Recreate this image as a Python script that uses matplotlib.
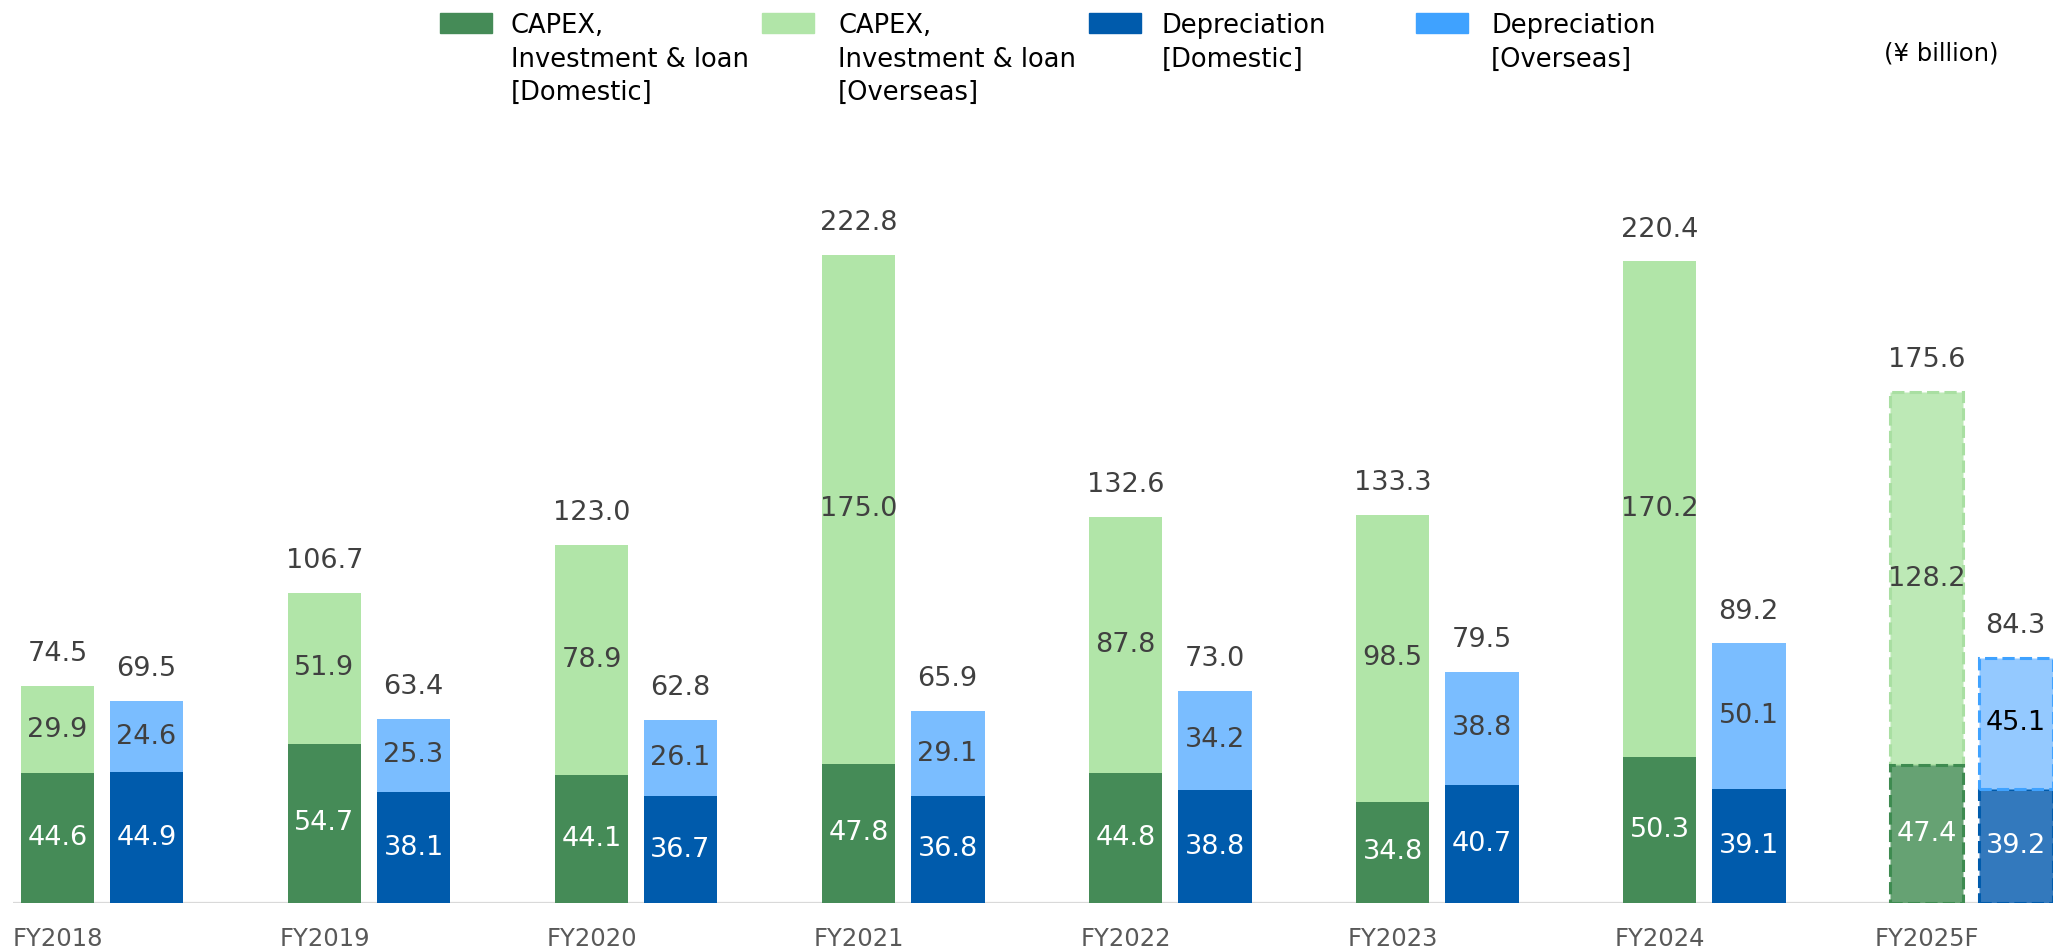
import numpy as np
import matplotlib
matplotlib.use("Agg")
import matplotlib.pyplot as plt
from matplotlib.patches import Rectangle

# data (¥ billion)
years = ["FY2018", "FY2019", "FY2020", "FY2021", "FY2022", "FY2023", "FY2024", "FY2025F"]
capex_dom = [44.6, 54.7, 44.1, 47.8, 44.8, 34.8, 50.3, 47.4]
capex_ovs = [29.9, 51.9, 78.9, 175.0, 87.8, 98.5, 170.2, 128.2]
dep_dom = [44.9, 38.1, 36.7, 36.8, 38.8, 40.7, 39.1, 39.2]
dep_ovs = [24.6, 25.3, 26.1, 29.1, 34.2, 38.8, 50.1, 45.1]
capex_total = [74.5, 106.7, 123.0, 222.8, 132.6, 133.3, 220.4, 175.6]
dep_total = [69.5, 63.4, 62.8, 65.9, 73.0, 79.5, 89.2, 84.3]

legend_labels = ["CAPEX,\nInvestment & loan\n[Domestic]",
                 "CAPEX,\nInvestment & loan\n[Overseas]",
                 "Depreciation\n[Domestic]",
                 "Depreciation\n[Overseas]"]

# colours
c_green = "#458B57"
c_lgreen = "#B1E5A8"
c_blue = "#005BAC"
c_lblue = "#7ABDFF"
legend_colors = [c_green, c_lgreen, c_blue, "#3FA2FF"]
# forecast (lighter fill + dashed outline)
f_fill = ["#66A273", "#BDE9B6", "#3379BD", "#94C9FF"]
f_edge = ["#3E8B50", "#A9DFA2", "#005BAC", "#3FA2FF"]

txt_dark = "#404040"
W, H = 2053, 950

fig = plt.figure(figsize=(W / 100, H / 100), dpi=100)
ax = fig.add_axes([0, 47 / H, 1, 803 / H])
ax.set_xlim(-0.382, 7.307)
ax.set_ylim(0, 276)
for s in ax.spines.values():
    s.set_visible(False)
ax.set_yticks([])

x = np.arange(len(years))
off = 0.1667
bw = 0.277
xg = x - off
xb = x + off
n = len(years) - 1  # actual years; last one is forecast

# actual bars
ax.bar(xg[:n], capex_dom[:n], bw, color=c_green, zorder=2)
ax.bar(xg[:n], capex_ovs[:n], bw, bottom=capex_dom[:n], color=c_lgreen, zorder=2)
ax.bar(xb[:n], dep_dom[:n], bw, color=c_blue, zorder=2)
ax.bar(xb[:n], dep_ovs[:n], bw, bottom=dep_dom[:n], color=c_lblue, zorder=2)

# forecast bars
dash = (0, (4, 1.7))
ax.bar(xg[n:], capex_ovs[n:], bw, bottom=capex_dom[n:], color=f_fill[1],
       edgecolor=f_edge[1], linewidth=2.2, linestyle=dash, zorder=2)
ax.bar(xg[n:], capex_dom[n:], bw, color=f_fill[0],
       edgecolor=f_edge[0], linewidth=2.2, linestyle=dash, zorder=3)
ax.bar(xb[n:], dep_dom[n:], bw, color=f_fill[2],
       edgecolor=f_edge[2], linewidth=2.2, linestyle=dash, zorder=2)
ax.bar(xb[n:], dep_ovs[n:], bw, bottom=dep_dom[n:], color=f_fill[3],
       edgecolor=f_edge[3], linewidth=2.2, linestyle=dash, zorder=3)

# baseline
ax.hlines(0, -0.333, 7.4, color="#D9D9D9", linewidth=1.6, zorder=1)

fs = 19.5
for i in range(len(years)):
    ax.text(xg[i], capex_dom[i] / 2, f"{capex_dom[i]:.1f}", ha="center", va="center",
            color="white", fontsize=fs, zorder=5)
    ax.text(xg[i], capex_dom[i] + capex_ovs[i] / 2, f"{capex_ovs[i]:.1f}", ha="center",
            va="center", color=txt_dark, fontsize=fs, zorder=5)
    ax.text(xb[i], dep_dom[i] / 2, f"{dep_dom[i]:.1f}", ha="center", va="center",
            color="white", fontsize=fs, zorder=5)
    ax.text(xb[i], dep_dom[i] + dep_ovs[i] / 2, f"{dep_ovs[i]:.1f}", ha="center",
            va="center", color="black" if i == n else txt_dark, fontsize=fs, zorder=5)
    ax.annotate(f"{capex_total[i]:.1f}", (xg[i], capex_total[i]), xytext=(0, 23),
                textcoords="offset points", ha="center", va="center",
                color=txt_dark, fontsize=fs)
    ax.annotate(f"{dep_total[i]:.1f}", (xb[i], dep_total[i]), xytext=(0, 23),
                textcoords="offset points", ha="center", va="center",
                color=txt_dark, fontsize=fs)

ax.set_xticks(xg)
ax.set_xticklabels(years, fontsize=17.5, color="#595959")
ax.tick_params(axis="x", length=0, pad=17.5)

# legend drawn by hand
patch_x = [440, 762, 1089, 1416]
text_x = [511, 838, 1162, 1491]
for px, tx, col, lab in zip(patch_x, text_x, legend_colors, legend_labels):
    fig.add_artist(Rectangle((px / W, 1 - 33 / H), 52 / W, 20 / H,
                             transform=fig.transFigure, color=col))
    fig.text(tx / W, 1 - 13 / H, lab, ha="left", va="top", fontsize=18.5,
             color="black", linespacing=1.38)

fig.text(1999 / W, 1 - 53 / H, "(¥ billion)", ha="right", va="center",
         fontsize=17.5, color="black")

fig.savefig("out.png", dpi=100)
